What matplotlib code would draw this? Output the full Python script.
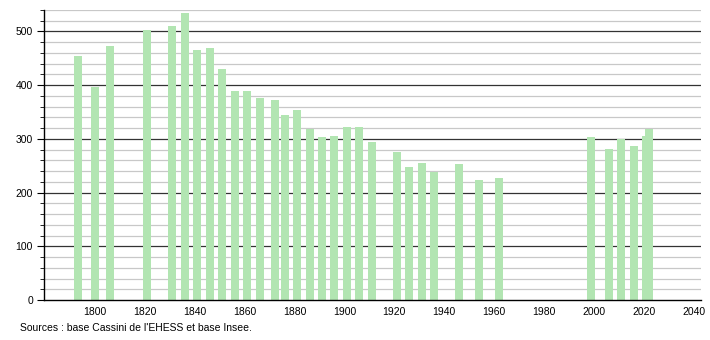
import numpy as np
import matplotlib
matplotlib.use("Agg")
import matplotlib.pyplot as plt
from matplotlib.ticker import MultipleLocator

plt.rcParams['font.family'] = ['Liberation Sans', 'DejaVu Sans']

# census years and population
years = [1793, 1800, 1806, 1821, 1831, 1836, 1841, 1846, 1851, 1856,
         1861, 1866, 1872, 1876, 1881, 1886, 1891, 1896, 1901, 1906,
         1911, 1921, 1926, 1931, 1936, 1946, 1954, 1962, 1999, 2006,
         2011, 2016, 2021, 2022]
population = [454, 396, 473, 502, 510, 535, 465, 469, 430, 390,
              390, 377, 372, 344, 353, 319, 303, 305, 323, 323,
              295, 275, 247, 256, 238, 254, 224, 228, 303, 282,
              299, 286, 305, 318]

x_ticks = list(range(1800, 2041, 20))
source = "Sources : base Cassini de l'EHESS et base Insee."

bar_color = '#b2e5b2'

fig = plt.figure(figsize=(7.1, 3.4), dpi=100)
ax = fig.add_axes([44/710, 40/340, (701-44)/710, 290/340])

# grid: light every 20, dark every 100
for y in range(20, 541, 20):
    if y % 100 == 0:
        ax.axhline(y, color='#333333', lw=0.9, zorder=1)
    else:
        ax.axhline(y, color='#c8c8c8', lw=0.9, zorder=1)

ax.bar(years, population, width=3.2, color=bar_color, zorder=2)

ax.set_xlim(1779.5, 2043)
ax.set_ylim(0, 540)
ax.set_xticks(x_ticks)
ax.yaxis.set_major_locator(MultipleLocator(100))
ax.yaxis.set_minor_locator(MultipleLocator(20))

for s in ['top', 'right']:
    ax.spines[s].set_visible(False)
ax.spines['left'].set_color('black')
ax.spines['bottom'].set_color('black')
ax.spines['left'].set_linewidth(1.0)
ax.spines['bottom'].set_linewidth(1.0)

ax.tick_params(axis='x', length=0, labelsize=7.5, pad=5)
ax.tick_params(axis='y', which='major', length=5, labelsize=7.5, pad=3)
ax.tick_params(axis='y', which='minor', length=3)

fig.text(20/710, 1 - 328/340, source, fontsize=7.5, va='center', ha='left')

fig.savefig('out.png', dpi=100)
